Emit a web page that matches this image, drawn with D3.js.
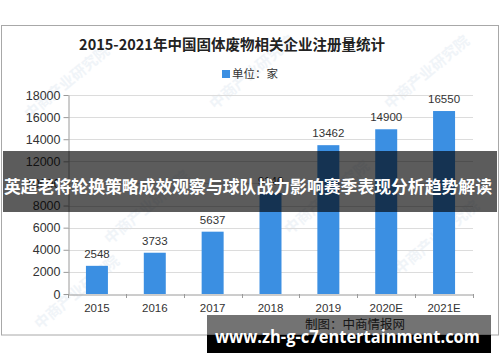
<!DOCTYPE html>
<html>
<head>
<meta charset="utf-8">
<script src="https://cdn.jsdelivr.net/npm/d3@7"></script>
<style>
  body { margin: 0; background: #fff; }
  svg { display: block; }
</style>
</head>
<body>
<svg width="500" height="362"></svg>
<script>
// data
var years = ["2015", "2016", "2017", "2018", "2019", "2020E", "2021E"];
var counts = [2548, 3733, 5637, 9140, 13462, 14900, 16550];
var yTicks = [0, 2000, 4000, 6000, 8000, 10000, 12000, 14000, 16000, 18000];

var title = "2015-2021年中国固体废物相关企业注册量统计";
var legendLabel = "单位：家";
var source = "制图：中商情报网";
var banner = "英超老将轮换策略成效观察与球队战力影响赛季表现分析趋势解读";
var site = "www.zh-g-c7entertainment.com";

var svg = d3.select("svg");
var font = "'Noto Sans CJK SC', 'Noto Sans', sans-serif";
var numFont = "'Liberation Sans', Arial, sans-serif";
var barColour = "#3b8fe2";

// frame
svg.append("rect")
    .attr("x", 1.5).attr("y", 25.5)
    .attr("width", 497).attr("height", 309.5)
    .attr("fill", "#fff")
    .attr("stroke", "#a8a8a8");

// faint watermarks
var marks = [[30, 120], [215, 110], [390, 110], [110, 245], [290, 235], [40, 330], [400, 275]];
svg.append("g").selectAll("text")
    .data(marks).enter()
    .append("text")
    .attr("transform", d => "translate(" + d[0] + "," + d[1] + ") rotate(-40)")
    .attr("font-family", font)
    .attr("font-size", 15)
    .attr("font-weight", "bold")
    .attr("fill", "#e3ebf3")
    .attr("opacity", 0.5)
    .text("中商产业研究院");

// scales
var x = d3.scaleBand()
    .domain(years)
    .range([68, 473])
    .paddingInner(0.62)
    .paddingOuter(0.31);

var y = d3.scaleLinear()
    .domain([0, 18000])
    .range([294, 95]);

// gridlines
svg.append("g").selectAll("line")
    .data(yTicks.slice(1)).enter()
    .append("line")
    .attr("x1", 68).attr("x2", 473)
    .attr("y1", d => Math.round(y(d)) + 0.5)
    .attr("y2", d => Math.round(y(d)) + 0.5)
    .attr("stroke", "#dcdcdc");

// y axis
var yAxis = svg.append("g")
    .attr("transform", "translate(68.5,0)")
    .call(d3.axisLeft(y).tickValues(yTicks).tickFormat(d3.format("d"))
        .tickSize(5).tickSizeOuter(0).tickPadding(3));
yAxis.selectAll("text").attr("font-family", numFont).attr("font-size", 12.5).attr("fill", "#333");
yAxis.selectAll("line, path").attr("stroke", "#9a9a9a");

// x axis
var xAxis = svg.append("g")
    .attr("transform", "translate(0,294.5)")
    .call(d3.axisBottom(x).tickSize(0).tickPadding(9));
xAxis.select("path").attr("stroke", "#9a9a9a");
xAxis.selectAll("text").attr("font-family", numFont).attr("font-size", 11.5).attr("fill", "#333");

// ticks at band edges
var edges = years.map(d => x(d) - x.step() * x.paddingInner() / 2).concat([473]);
svg.append("g").selectAll("line")
    .data(edges).enter()
    .append("line")
    .attr("x1", d => Math.round(d) + 0.5).attr("x2", d => Math.round(d) + 0.5)
    .attr("y1", 294).attr("y2", 298)
    .attr("stroke", "#9a9a9a");

// bars
svg.append("g").selectAll("rect")
    .data(counts).enter()
    .append("rect")
    .attr("x", (d, i) => x(years[i]))
    .attr("width", x.bandwidth())
    .attr("y", d => y(d))
    .attr("height", d => y(0) - y(d))
    .attr("fill", barColour);

// value labels
svg.append("g").selectAll("text")
    .data(counts).enter()
    .append("text")
    .attr("x", (d, i) => x(years[i]) + x.bandwidth() / 2)
    .attr("y", d => y(d) - 8)
    .attr("text-anchor", "middle")
    .attr("font-family", numFont)
    .attr("font-size", 11.5)
    .attr("fill", "#333")
    .text(d => d);

// title
svg.append("text")
    .attr("x", 232).attr("y", 50)
    .attr("text-anchor", "middle")
    .attr("font-family", font)
    .attr("font-size", 14.5)
    .attr("font-weight", "bold")
    .attr("fill", "#222")
    .text(title);

// legend
svg.append("rect")
    .attr("x", 222).attr("y", 70)
    .attr("width", 8).attr("height", 8)
    .attr("fill", barColour);
svg.append("text")
    .attr("x", 232).attr("y", 78)
    .attr("font-family", font)
    .attr("font-size", 11.5)
    .attr("fill", "#333")
    .text(legendLabel);

// source
svg.append("text")
    .attr("x", 305).attr("y", 329)
    .attr("font-family", font)
    .attr("font-size", 12.5)
    .attr("fill", "#333")
    .text(source);

// overlay banner
svg.append("rect")
    .attr("x", 3).attr("y", 151)
    .attr("width", 494).attr("height", 61)
    .attr("fill", "rgba(0,0,0,0.64)");
svg.append("text")
    .attr("x", 4).attr("y", 193)
    .attr("font-family", font)
    .attr("font-size", 17)
    .attr("font-weight", "bold")
    .attr("fill", "#fff")
    .attr("textLength", 488)
    .attr("lengthAdjust", "spacingAndGlyphs")
    .text(banner);

// bottom site band
svg.append("rect")
    .attr("x", 207).attr("y", 315)
    .attr("width", 284).attr("height", 20)
    .attr("fill", "rgba(0,0,0,0.55)");
svg.append("rect")
    .attr("x", 207).attr("y", 335)
    .attr("width", 284).attr("height", 18)
    .attr("fill", "#000");
svg.append("text")
    .attr("x", 215).attr("y", 343)
    .attr("font-family", "'Open Sans', 'DejaVu Sans', sans-serif")
    .attr("font-size", 17)
    .attr("font-weight", "bold")
    .attr("fill", "#fff")
    .attr("textLength", 265)
    .attr("lengthAdjust", "spacingAndGlyphs")
    .text(site);
</script>
</body>
</html>
